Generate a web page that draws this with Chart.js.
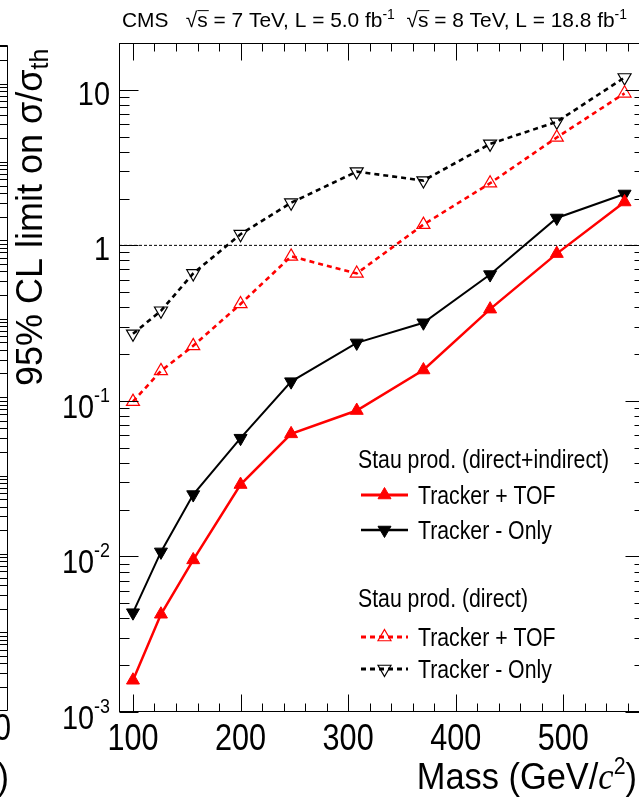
<!DOCTYPE html>
<html>
<head>
<meta charset="utf-8">
<script src="https://cdn.jsdelivr.net/npm/chart.js@4.4.0/dist/chart.umd.min.js"></script>
<style>
html, body { margin: 0; padding: 0; background: #fff; overflow: hidden; }
#wrap { position: absolute; left: 0; top: 0; width: 680px; height: 803px; }
</style>
</head>
<body>
<div id="wrap"><canvas id="limitCanvas" width="680" height="803"></canvas></div>
<script>
// stau masses (GeV/c^2)
const masses = [100, 126, 156, 200, 247, 308, 370, 432, 494, 557];
// 95% CL limit on sigma/sigma_th
const tofAll = [0.0016, 0.00425, 0.0095, 0.029, 0.0614, 0.0867, 0.158, 0.389, 0.885, 1.90];
const trackerAll = [0.00435, 0.0107, 0.025, 0.0576, 0.133, 0.236, 0.318, 0.649, 1.50, 2.14];
const tofDirect = [0.099, 0.156, 0.226, 0.42, 0.85, 0.66, 1.36, 2.51, 4.94, 9.5];
const trackerDirect = [0.27, 0.38, 0.66, 1.18, 1.88, 2.98, 2.61, 4.49, 6.23, 12.0];

const xTickValues = [100, 200, 300, 400, 500];
const xTickLabels = ['100', '200', '300', '400', '500'];
const yTickValues = [0.001, 0.01, 0.1, 1, 10];
const yTickLabels = ['10^-3', '10^-2', '10^-1', '1', '10'];

const X_MIN = 87, X_MAX = 576, Y_MIN = 0.001, Y_MAX = 20;

const FONT = '"Liberation Sans", Arial, sans-serif';
const SERIF = '"Liberation Serif", "Times New Roman", serif';

function toPoints(values) {
    return masses.map((m, i) => ({x: m, y: values[i]}));
}

// draw a row of text pieces (super/subscripts), optionally squeezed horizontally
function drawRuns(ctx, runs, x, y, align, sx) {
    let total = 0;
    runs.forEach(r => {
        ctx.font = (r.style || '') + ' ' + r.size + 'px ' + (r.family || FONT);
        r.w = ctx.measureText(r.text).width * sx;
        total += r.w;
    });
    let cx = x;
    if (align === 'right') cx = x - total;
    if (align === 'center') cx = x - total / 2;
    runs.forEach(r => {
        ctx.save();
        ctx.font = (r.style || '') + ' ' + r.size + 'px ' + (r.family || FONT);
        ctx.translate(cx, y + (r.dy || 0));
        ctx.scale(sx, 1);
        ctx.textAlign = 'left';
        ctx.textBaseline = 'alphabetic';
        ctx.fillStyle = '#000';
        ctx.fillText(r.text, 0, 0);
        if (r.bar) {
            ctx.lineWidth = 1;
            ctx.beginPath();
            ctx.moveTo(0, -r.size * 0.78);
            ctx.lineTo(r.w / sx + 1, -r.size * 0.78);
            ctx.stroke();
        }
        ctx.restore();
        cx += r.w;
    });
}

function labelRuns(label, size) {
    const parts = label.split('^');
    const runs = [{text: parts[0], size: size}];
    if (parts[1]) runs.push({text: parts[1], size: size * 0.62, dy: -size * 0.47});
    return runs;
}

function drawMarker(ctx, x, y, ds) {
    const r = ds.pointRadius;
    const down = ds.pointRotation === 180 ? -1 : 1;
    ctx.save();
    ctx.beginPath();
    ctx.moveTo(x, y - down * r);
    ctx.lineTo(x + r * 0.866, y + down * r * 0.5);
    ctx.lineTo(x - r * 0.866, y + down * r * 0.5);
    ctx.closePath();
    ctx.setLineDash([]);
    ctx.fillStyle = ds.pointBackgroundColor;
    ctx.fill();
    ctx.lineWidth = ds.pointBorderWidth;
    ctx.strokeStyle = ds.pointBorderColor;
    ctx.stroke();
    ctx.restore();
}

const legendGroups = [
    {title: 'Stau prod. (direct+indirect)', y: 468, entries: [0, 1], rows: [495, 530]},
    {title: 'Stau prod. (direct)', y: 607, entries: [2, 3], rows: [637, 669]}
];

const rootStyle = {
    id: 'rootStyle',
    afterDraw(chart) {
        const ctx = chart.ctx;
        const a = chart.chartArea;
        const xs = chart.scales.x, ys = chart.scales.y;
        const L = Math.round(a.left) + 0.5, R = Math.round(a.right) - 0.5;
        const T = Math.round(a.top) + 0.5, B = Math.round(a.bottom) - 0.5;
        ctx.save();
        ctx.strokeStyle = '#000';
        ctx.lineWidth = 1;
        ctx.strokeRect(L, T, R - L, B - T);

        // x ticks, inside the frame, top and bottom
        ctx.beginPath();
        for (let v = Math.ceil(X_MIN / 20) * 20; v <= X_MAX; v += 20) {
            const px = Math.round(xs.getPixelForValue(v)) + 0.5;
            const len = v % 100 === 0 ? 17 : 8;
            ctx.moveTo(px, B); ctx.lineTo(px, B - len);
            ctx.moveTo(px, T); ctx.lineTo(px, T + len);
        }
        // y ticks, log, left and right
        for (let e = -3; e <= 1; e++) {
            for (let m = 1; m <= 9; m++) {
                const v = m * Math.pow(10, e);
                if (v < Y_MIN || v > Y_MAX) continue;
                const py = Math.round(ys.getPixelForValue(v)) + 0.5;
                const len = m === 1 ? 19 : 10;
                ctx.moveTo(L, py); ctx.lineTo(L + len, py);
                ctx.moveTo(R, py); ctx.lineTo(R - len, py);
            }
        }
        ctx.stroke();

        // right edge of the neighbouring panel
        ctx.beginPath();
        ctx.moveTo(7.5, 45.5); ctx.lineTo(7.5, 710.5);
        ctx.moveTo(0, 45.5); ctx.lineTo(7.5, 45.5);
        ctx.moveTo(0, 710.5); ctx.lineTo(7.5, 710.5);
        const dec = 78.4;
        for (let k = -1; k <= 8; k++) {
            const yMajor = 83.5 + dec * k;
            for (let m = 1; m <= 9; m++) {
                const py = Math.round(yMajor - dec * Math.log10(m)) + 0.5;
                if (py < 46 || py > 710) continue;
                ctx.moveTo(0, py); ctx.lineTo(7.5, py);
            }
        }
        ctx.stroke();

        // tick labels
        xTickValues.forEach((v, i) => {
            drawRuns(ctx, [{text: xTickLabels[i], size: 36}], xs.getPixelForValue(v), 750, 'center', 0.85);
        });
        yTickValues.forEach((v, i) => {
            const py = ys.getPixelForValue(v);
            const hasExp = yTickLabels[i].indexOf('^') >= 0;
            drawRuns(ctx, labelRuns(yTickLabels[i], 34), 110, py + (hasExp ? 17 : 15), 'right', 0.85);
        });

        // axis titles
        drawRuns(ctx, [
            {text: 'Mass (GeV/', size: 37},
            {text: 'c', size: 37, style: 'italic', family: SERIF},
            {text: '2', size: 23, dy: -15},
            {text: ')', size: 37}
        ], 637, 789, 'right', 0.93);
        ctx.save();
        ctx.translate(42, 386);
        ctx.rotate(-Math.PI / 2);
        drawRuns(ctx, [
            {text: '95% CL limit on \u03c3/\u03c3', size: 36},
            {text: 'th', size: 25, dy: 6}
        ], 0, 0, 'left', 1);
        ctx.restore();

        // neighbour panel label ends
        drawRuns(ctx, [{text: '500', size: 36}], 11, 740, 'right', 0.85);
        drawRuns(ctx, [{text: ')', size: 37}], 9, 789, 'right', 0.93);

        // header
        drawRuns(ctx, [
            {text: 'CMS   ', size: 21},
            {text: '\u221a', size: 21},
            {text: 's', size: 21, bar: true},
            {text: ' = 7 TeV, L = 5.0 fb', size: 21},
            {text: '-1', size: 14, dy: -8},
            {text: '  ', size: 21},
            {text: '\u221a', size: 21},
            {text: 's', size: 21, bar: true},
            {text: ' = 8 TeV, L = 18.8 fb', size: 21},
            {text: '-1', size: 14, dy: -8}
        ], 122, 27, 'left', 0.995);

        // legend
        const dsets = chart.data.datasets;
        legendGroups.forEach(g => {
            drawRuns(ctx, [{text: g.title, size: 25}], 358, g.y, 'left', 0.85);
            g.entries.forEach((idx, j) => {
                const ds = dsets[idx];
                const ly = g.rows[j];
                ctx.save();
                ctx.strokeStyle = ds.borderColor;
                ctx.lineWidth = ds.borderWidth + 0.5;
                ctx.setLineDash(ds.borderDash || []);
                ctx.beginPath();
                ctx.moveTo(361, ly); ctx.lineTo(408, ly);
                ctx.stroke();
                ctx.restore();
                drawMarker(ctx, 384.5, ly, ds);
                drawRuns(ctx, [{text: ds.label, size: 25}], 418, ly + 9, 'left', 0.85);
            });
        });
        ctx.restore();
    }
};

function series(label, values, color, filled, down, dashed) {
    return {
        label: label,
        data: toPoints(values),
        borderColor: color,
        borderWidth: dashed ? 2.6 : (color === '#ff0000' ? 2.5 : 2),
        borderDash: dashed ? [5, 4] : [],
        pointStyle: 'triangle',
        pointRotation: down ? 180 : 0,
        pointRadius: 7.5,
        pointBorderWidth: filled ? 1 : 1.2,
        pointBorderColor: color,
        pointBackgroundColor: filled ? color : 'rgba(255,255,255,0)',
        tension: 0
    };
}

window.addEventListener('load', () => {
    new Chart(document.querySelector('#limitCanvas'), {
        type: 'line',
        data: {
            datasets: [
                series('Tracker + TOF', tofAll, '#ff0000', true, false, false),
                series('Tracker - Only', trackerAll, '#000000', true, true, false),
                series('Tracker + TOF', tofDirect, '#ff0000', false, false, true),
                series('Tracker - Only', trackerDirect, '#000000', false, true, true),
                {
                    label: 'limit = 1',
                    data: [{x: X_MIN, y: 1}, {x: X_MAX, y: 1}],
                    borderColor: '#000',
                    borderWidth: 1,
                    borderDash: [3, 2],
                    pointRadius: 0
                }
            ]
        },
        options: {
            responsive: false,
            animation: false,
            devicePixelRatio: 1,
            events: [],
            layout: {padding: {left: 119, right: 35, top: 43, bottom: 91}},
            plugins: {legend: {display: false}, tooltip: {enabled: false}},
            scales: {
                x: {type: 'linear', min: X_MIN, max: X_MAX, display: false},
                y: {type: 'logarithmic', min: Y_MIN, max: Y_MAX, display: false}
            }
        },
        plugins: [rootStyle]
    });
});
</script>
</body>
</html>
